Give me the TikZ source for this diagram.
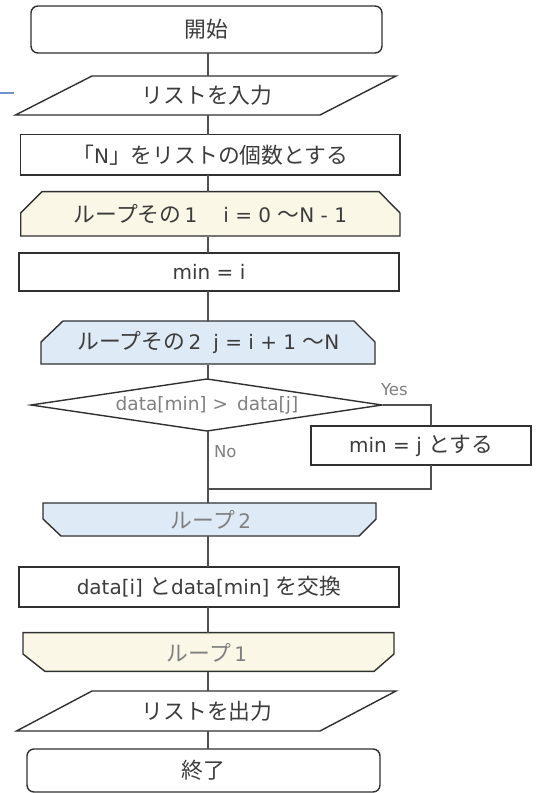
\documentclass[tikz,border=0pt]{standalone}
\usepackage{fontspec}
\setmainfont{DejaVu Sans}
\newfontfamily\jp{Noto Sans CJK JP}[Scale=1.09]
\usetikzlibrary{calc}
\definecolor{ink}{HTML}{3C3C3C}
\definecolor{soft}{HTML}{808080}
\definecolor{edge}{HTML}{303030}
\definecolor{wire}{HTML}{505050}
\definecolor{creamfill}{HTML}{FBF7E6}
\definecolor{bluefill}{HTML}{DEEBF7}
\definecolor{stray}{HTML}{6F93CB}
\begin{document}
\begin{tikzpicture}[x=1pt,y=-1pt,
  maintxt/.style={text=ink, font=\fontsize{20}{24}\selectfont, inner sep=0pt, outer sep=0pt},
  softtxt/.style={text=soft, font=\fontsize{18.5}{22}\selectfont, inner sep=0pt, outer sep=0pt},
  tagtxt/.style={text=soft, font=\fontsize{16.5}{20}\selectfont, inner sep=0pt, outer sep=0pt},
  outline/.style={draw=edge, line width=1.4pt, line join=miter},
  wireline/.style={draw=wire, line width=1.1pt},
  termbox/.style={maintxt, outline, fill=white, rounded corners=7pt},
  procbox/.style={maintxt, outline, fill=white},
  hidden/.style={inner sep=0pt, outer sep=0pt}
]
\useasboundingbox (0,0) rectangle (540,793);
\fill[white] (0,0) rectangle (540,793);

\coordinate (spine) at (208,0);
\coordinate (yesx) at (431,0);
\coordinate (joinpt) at (208,489);
\coordinate (strayA) at (0,93);
\coordinate (strayB) at (14,93);

% stray mark at left
\draw[stray, line width=1.2pt] (strayA) -- (strayB);

% start
\node[termbox, minimum width=351pt, minimum height=47pt] (start) at (206.5,29.5) {\jp 開始};

% input
\path[outline, fill=white] (92,76) -- (396,76) -- (320,115) -- (15.5,115) -- cycle;
\node[hidden, maintxt, minimum width=228pt, minimum height=39pt] (inp) at (207,95.5) {\jp リストを入力};

% N box
\node[procbox, minimum width=379.3pt, minimum height=40.5pt] (nbox) at (210.3,154.8) {{\jp「}N{\jp」をリストの個数とする}};

% loop 1 start
\path[outline, fill=creamfill] (20.7,213) -- (42,191.6) -- (379,191.6) -- (400,213) -- (400,236) -- (20.7,236) -- cycle;
\node[hidden, maintxt, minimum width=379.3pt, minimum height=44.4pt] (loopA) at (210.35,214.3) {{\jp ループその}\,1\hspace{26pt}i = 0 {\jp 〜}N - 1};

% min = i
\node[procbox, minimum width=380pt, minimum height=38pt] (mini) at (209,272) {min = i};

% loop 2 start
\path[outline, fill=bluefill] (41,342) -- (63,321) -- (354,321) -- (375,342) -- (375,364) -- (41,364) -- cycle;
\node[hidden, maintxt, minimum width=334pt, minimum height=43pt] (loopB) at (208.5,343) {{\jp ループその}\,2\hspace{12pt}j = i + 1 {\jp 〜}N};

% decision
\path[outline, fill=white] (207,379) -- (382,405) -- (207,431) -- (31,405) -- cycle;
\node[hidden, softtxt, minimum width=351pt, minimum height=52pt] (cond) at (207,405) {data[min] >\, data[j]};

% min = j
\node[procbox, minimum width=220pt, minimum height=39pt] (minj) at (421,445.5) {min = j {\jp とする}};

% labels
\node[tagtxt, anchor=west] (yeslbl) at (381,390) {Yes};
\node[tagtxt, anchor=west] (nolbl) at (214,452) {No};

% loop 2 end
\path[outline, fill=bluefill] (43,503) -- (376,503) -- (376,519) -- (359,536) -- (61,536) -- (43,519) -- cycle;
\node[hidden, softtxt, font=\fontsize{20}{24}\selectfont, minimum width=333pt, minimum height=33pt] (loopBend) at (211,519.5) {{\jp ループ}\,2};

% swap
\node[procbox, minimum width=380pt, minimum height=40pt] (swap) at (209,587) {data[i] {\jp と}data[min] {\jp を交換}};

% loop 1 end
\path[outline, fill=creamfill] (23,632.6) -- (394,632.6) -- (394,654) -- (374,671.4) -- (45,671.4) -- (23,654) -- cycle;
\node[hidden, softtxt, font=\fontsize{20}{24}\selectfont, minimum width=371pt, minimum height=38.8pt] (loopAend) at (207,652.5) {{\jp ループ}\,1};

% output
\path[outline, fill=white] (92,691) -- (396,691) -- (320,731) -- (16.5,731) -- cycle;
\node[hidden, maintxt, minimum width=228pt, minimum height=40pt] (outp) at (207,711) {\jp リストを出力};

% end
\node[termbox, minimum width=353pt, minimum height=43pt] (stop) at (203.5,770.5) {\jp 終了};

% connectors
\draw[wireline] (start.south -| spine) -- (inp.north -| spine);
\draw[wireline] (inp.south -| spine) -- (nbox.north -| spine);
\draw[wireline] (nbox.south -| spine) -- (loopA.north -| spine);
\draw[wireline] (loopA.south -| spine) -- (mini.north -| spine);
\draw[wireline] (mini.south -| spine) -- (loopB.north -| spine);
\draw[wireline] (loopB.south -| spine) -- (cond.north -| spine);
\draw[wireline] (cond.south -| spine) -- (loopBend.north -| spine);
\draw[wireline] (cond.east) -- (cond.east -| yesx) -- (minj.north -| yesx);
\draw[wireline] (minj.south -| yesx) -- (joinpt -| yesx) -- (joinpt);
\draw[wireline] (loopBend.south -| spine) -- (swap.north -| spine);
\draw[wireline] (swap.south -| spine) -- (loopAend.north -| spine);
\draw[wireline] (loopAend.south -| spine) -- (outp.north -| spine);
\draw[wireline] (outp.south -| spine) -- (stop.north -| spine);
\end{tikzpicture}
\end{document}
